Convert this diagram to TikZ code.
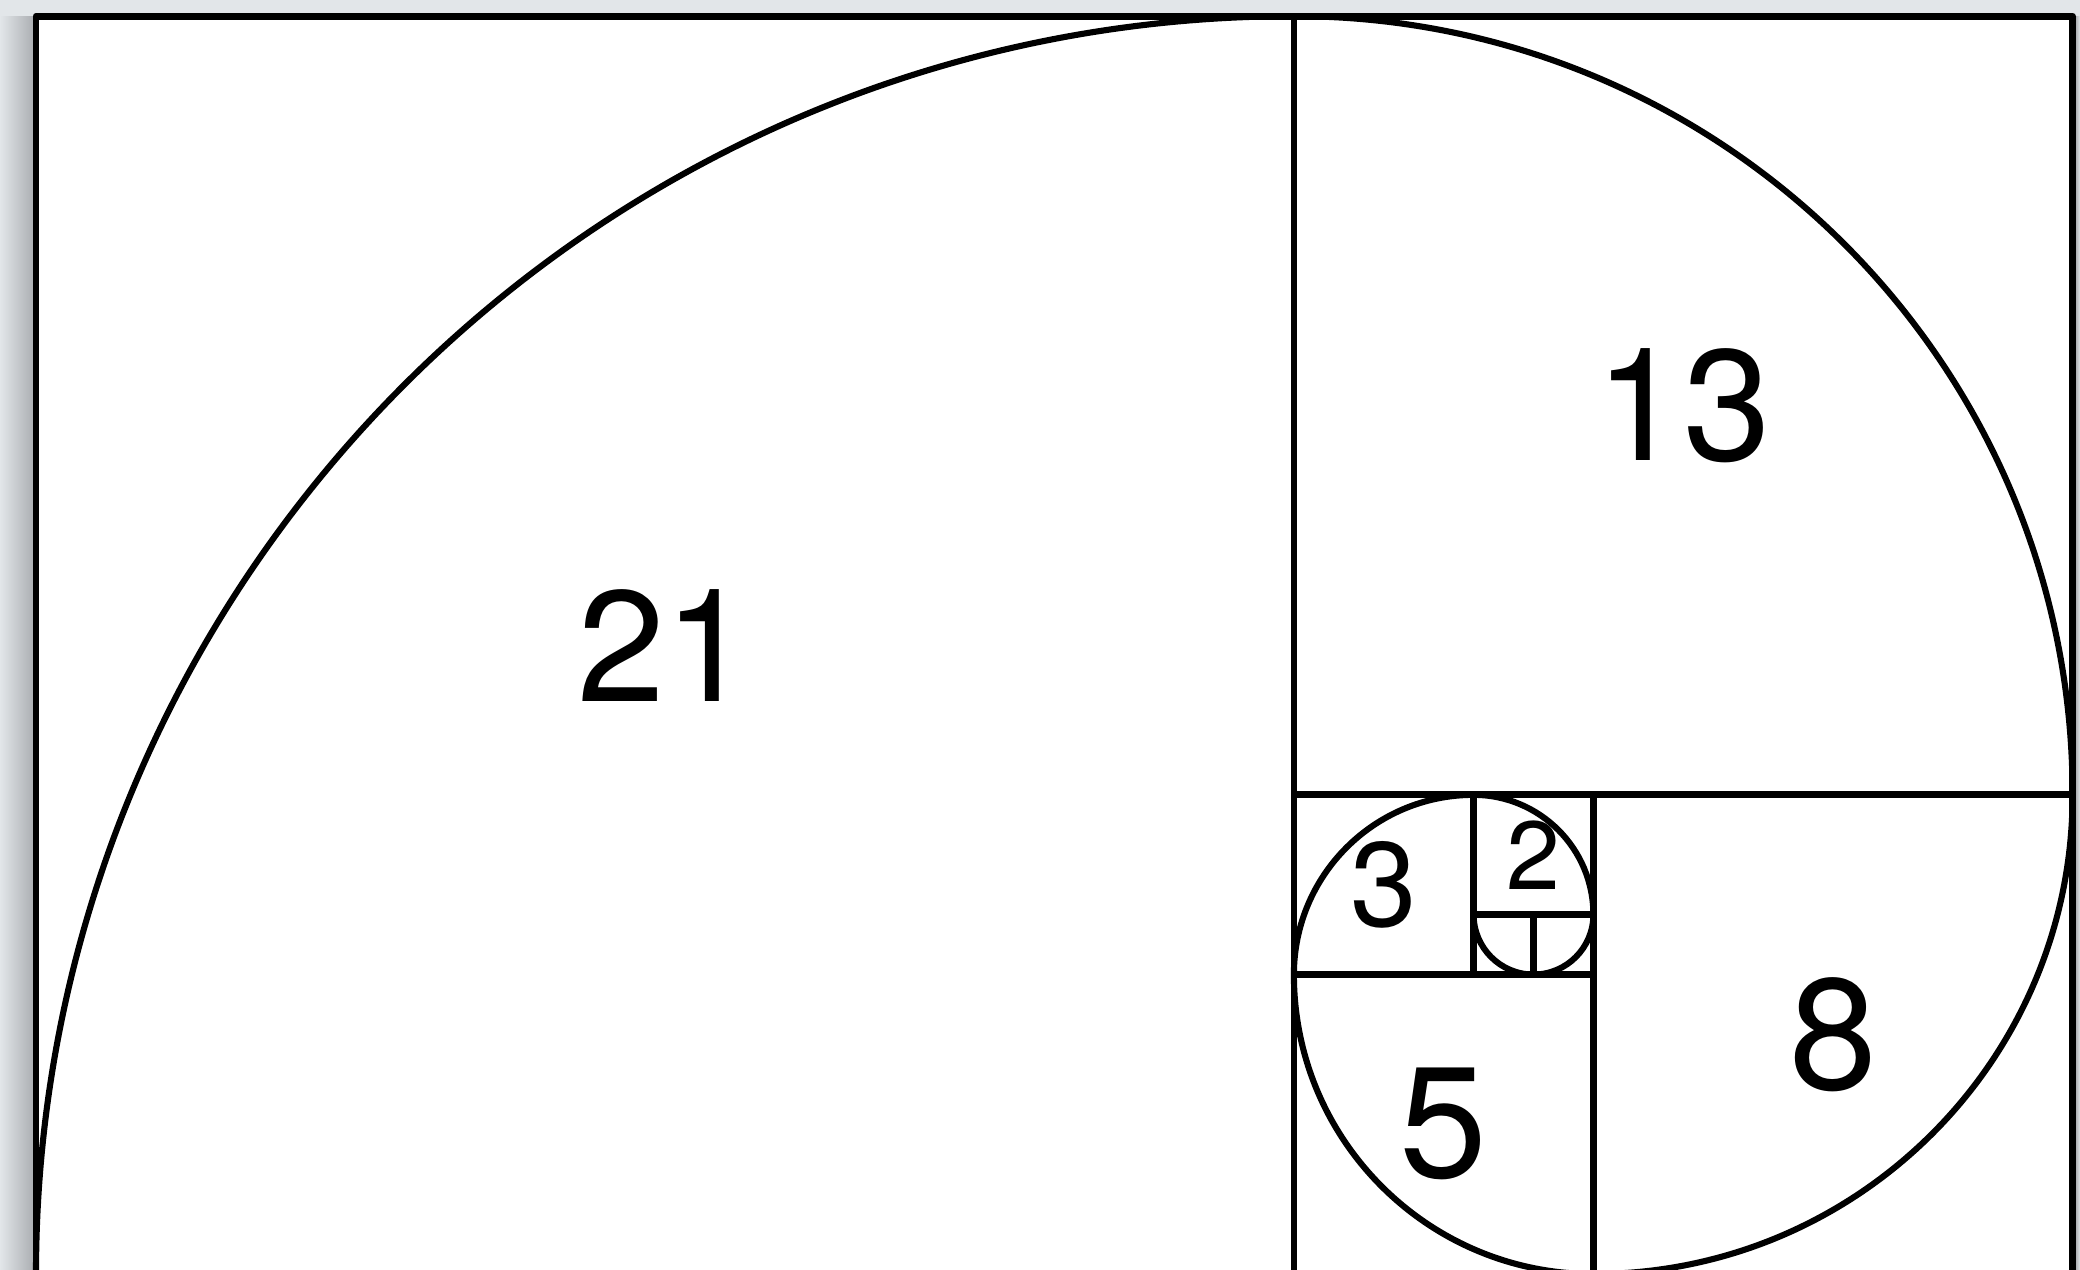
\documentclass[tikz,border=0pt]{standalone}
\usepackage{fontspec}
\setmainfont{TeX Gyre Heros}
\usepackage{xcolor}
\usepackage{tikz}
\usetikzlibrary{positioning}
\definecolor{backdrop}{RGB}{226,230,233}
\definecolor{edgeshade}{RGB}{168,171,175}

\begin{document}
\begin{tikzpicture}[
  sqline/.style={line width=3.2pt},
  spiral/.style={line width=2.9pt},
  line join=round
]
% Page frame and backdrop
\useasboundingbox (-0.601,0.083) rectangle (34.124,21.27);
\clip (-0.601,0.083) rectangle (34.124,21.27);
\fill[backdrop] (-0.601,0.083) rectangle (34.124,21.27);
\shade[left color=backdrop, right color=edgeshade] (-0.601,0.083) rectangle (0,21);
\shade[left color=edgeshade!80!black, right color=backdrop] (34,0.083) rectangle (34.124,21);
\fill[white] (0,0) rectangle (34,21);

% Fibonacci squares
\draw[sqline] (0,0) rectangle (34,21);
\draw[sqline] (21,0) -- (21,21);
\draw[sqline] (21,8) -- (34,8);
\draw[sqline] (26,0) -- (26,8);
\draw[sqline] (21,5) -- (26,5);
\draw[sqline] (24,5) -- (24,8);
\draw[sqline] (24,6) -- (26,6);
\draw[sqline] (25,5) -- (25,6);

% Spiral
\draw[spiral] (0,0) arc[start angle=180, end angle=90, radius=21]
  arc[start angle=90, end angle=0, radius=13]
  arc[start angle=0, end angle=-90, radius=8]
  arc[start angle=270, end angle=180, radius=5]
  arc[start angle=180, end angle=90, radius=3]
  arc[start angle=90, end angle=0, radius=2]
  arc[start angle=0, end angle=-180, radius=1];

% Square labels
\foreach \n/\x/\y/\sz in {
    21/10.5/10.5/75,
    13/27.5/14.5/75,
    8/30/4/75,
    5/23.5/2.5/75,
    3/22.5/6.5/57,
    2/25/7/46
} {
    \node[font=\fontsize{\sz}{\sz}\selectfont, inner sep=0pt] (lbl\n) at (\x,\y) {\n};
}
\end{tikzpicture}
\end{document}
